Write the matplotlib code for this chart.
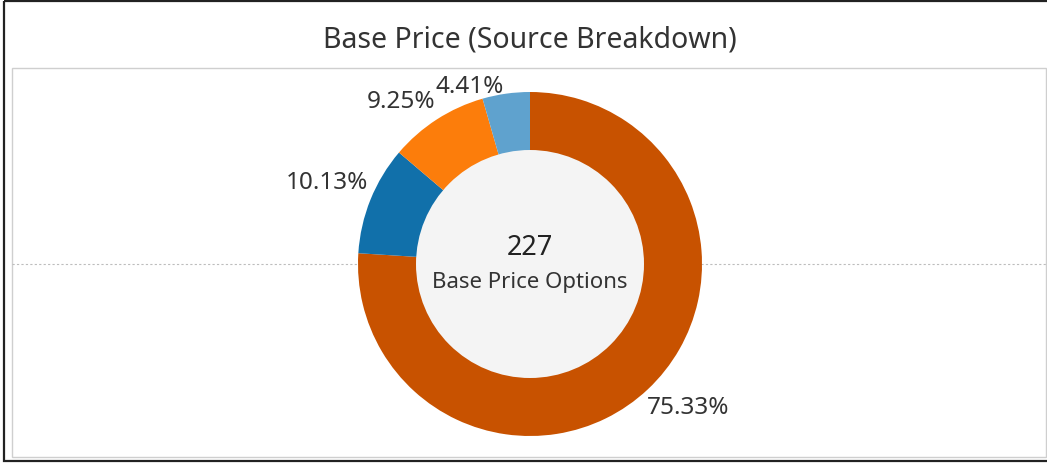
import matplotlib.pyplot as plt
from matplotlib.patches import Rectangle, Circle

plt.rcParams['font.family'] = ['Noto Sans', 'DejaVu Sans']

# data
sources = ['Source A', 'Source B', 'Source C', 'Source D']
shares = [75.33, 10.13, 9.25, 4.41]
colors = ['#c85200', '#1170aa', '#fc7d0b', '#5fa2ce']
pct_labels = ['75.33%', '10.13%', '9.25%', '4.41%']
label_pos = [(688, 408), (327, 183), (401, 102), (470, 87)]  # text positions (px)
total = 227
center_text = 'Base Price Options'
title = 'Base Price (Source Breakdown)'

W, H = 1047, 464
fig = plt.figure(figsize=(W / 100, H / 100), dpi=100)
ax = fig.add_axes([0, 0, 1, 1])

# donut (y axis inverted below, so counterclock=True draws clockwise on screen)
cx, cy, R, r_in = 530, 265, 172, 114
ax.pie(shares, colors=colors, startangle=-90, counterclock=True,
       center=(cx, cy), radius=R, frame=True,
       wedgeprops=dict(linewidth=0, zorder=2))
ax.set_xlim(0, W)
ax.set_ylim(H, 0)
ax.axis('off')
ax.add_patch(Circle((cx, cy), r_in, facecolor='#f4f4f4', edgecolor='none', zorder=3))

# outer frame and pane
ax.add_patch(Rectangle((4, 2), W, 460, fill=False, edgecolor='#222222', linewidth=1.6, zorder=1))
ax.add_patch(Rectangle((12, 69), 1034, 389, fill=False, edgecolor='#cfcfcf', linewidth=1, zorder=1))
ax.plot([12, 1046], [265, 265], color='#bdbdbd', linestyle=(0, (2, 2)), linewidth=0.8, zorder=1)

for txt, (x, y) in zip(pct_labels, label_pos):
    ax.text(x, y, txt, ha='center', va='center', fontsize=17.5, color='#333333', zorder=4)

ax.text(cx, 248, str(total), ha='center', va='center', fontsize=19.5, color='#222222', zorder=4)
ax.text(cx, 283, center_text, ha='center', va='center', fontsize=16, color='#333333', zorder=4)
ax.text(cx, 40, title, ha='center', va='center', fontsize=20.5, color='#333333', zorder=4)

fig.savefig('out.png', dpi=100)
